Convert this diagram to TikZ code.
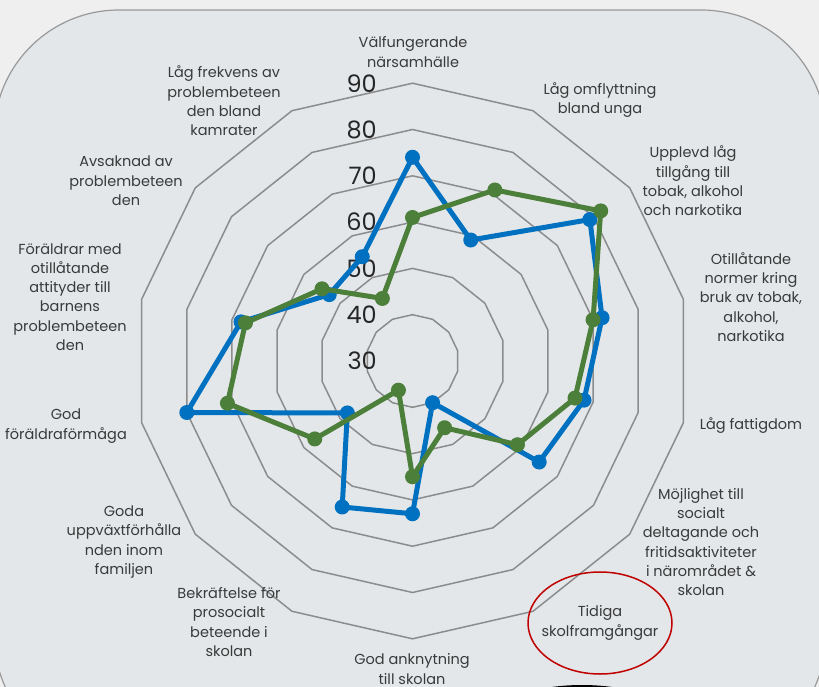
\documentclass[tikz,border=0pt]{standalone}
\usepackage{fontspec}
\setmainfont{Poppins}
\definecolor{pagegray}{HTML}{EFEFEF}
\definecolor{panelgray}{HTML}{E3E7EA}
\definecolor{gridgray}{HTML}{8C8C8C}
\definecolor{txtgray}{HTML}{3A3A3A}
\definecolor{serieblue}{HTML}{0070C0}
\definecolor{seriegreen}{HTML}{4C7F3A}
\definecolor{ringred}{HTML}{C00000}
\tikzset{gridline/.style={gridgray,line width=1.5pt,line join=miter},
         axislabel/.style={text=txtgray,align=center,inner sep=0pt,
                           font=\fontsize{14.5}{19.3}\selectfont},
         ticklabel/.style={text=black!85,anchor=east,inner sep=0pt,
                           font=\fontsize{24}{24}\selectfont},
         bluedot/.style={circle,fill=serieblue,inner sep=0pt,minimum size=15pt},
         greendot/.style={circle,fill=seriegreen,inner sep=0pt,minimum size=15pt},
         blueline/.style={serieblue,line width=5pt,line join=round},
         greenline/.style={seriegreen,line width=5pt,line join=round}}

\begin{document}
\begin{tikzpicture}[x=1pt,y=-1pt]
\useasboundingbox (0,0) rectangle (819,687);
\fill[pagegray] (0,0) rectangle (819,687);
\begin{scope}
  \clip (0,0) rectangle (819,687);
  \draw[fill=panelgray,draw=gray!80,line width=1.2pt,rounded corners=125pt]
    (-6,10) rectangle (826,760);
  \fill[black] (582,720) ellipse [x radius=90,y radius=35];
\end{scope}

\coordinate (c) at (412.5,361);
% rings 40 .. 90
\foreach \v in {40,50,...,90}
  \draw[gridline] ([shift={(c)}] -90:{(\v-30)*4.63})
    \foreach \k in {1,...,13}{ -- ([shift={(c)}] {-90+\k*360/14}:{(\v-30)*4.63}) } -- cycle;
\foreach \v in {30,40,...,90}
  \node[ticklabel] (t\v) at (377,{361-(\v-30)*4.63}) {\v};

% axis texts
\node[axislabel] (l0) at (413,52) {Välfungerande\\närsamhälle};
\node[axislabel] (l1) at (600,100) {Låg omflyttning\\bland unga};
\node[axislabel] (l2) at (693,181) {Upplevd låg\\tillgång till\\tobak, alkohol\\och narkotika};
\node[axislabel] (l3) at (751,297) {Otillåtande\\normer kring\\bruk av tobak,\\alkohol,\\narkotika};
\node[axislabel] (l4) at (751,426) {Låg fattigdom};
\node[axislabel] (l5) at (701,542) {Möjlighet till\\socialt\\deltagande och\\fritidsaktiviteter\\i närområdet \&\\skolan};
\node[axislabel] (l6) at (600,623) {Tidiga\\skolframgångar};
\node[axislabel] (l7) at (412,669) {God anknytning\\till skolan};
\node[axislabel] (l8) at (229,622) {Bekräftelse för\\prosocialt\\beteende i\\skolan};
\node[axislabel] (l9) at (124,542) {Goda\\uppväxtförhålla\\nden inom\\familjen};
\node[axislabel] (l10) at (66,426) {God\\föräldraförmåga};
\node[axislabel] (l11) at (70,297) {Föräldrar med\\otillåtande\\attityder till\\barnens\\problembeteen\\den};
\node[axislabel] (l12) at (126,181) {Avsaknad av\\problembeteen\\den};
\node[axislabel] (l13) at (224,101) {Låg frekvens av\\problembeteen\\den bland\\kamrater};

% series
\foreach \val [count=\k from 0] in {74,59,79,72,68,65,40,63,65,48,80,68,53,55}
  \node[bluedot] (b\k) at ([shift={(c)}] {-90+\k*360/14}:{(\val-30)*4.63}) {};
\draw[blueline] (b0.center) \foreach \k in {1,...,13}{ -- (b\k.center) } -- cycle;
\foreach \val [count=\k from 0] in {61,71,82,70,66,59,46,55,37,57,71,67,55,45}
  \node[greendot] (g\k) at ([shift={(c)}] {-90+\k*360/14}:{(\val-30)*4.63}) {};
\draw[greenline] (g0.center) \foreach \k in {1,...,13}{ -- (g\k.center) } -- cycle;

\draw[ringred,line width=1.5pt] (l6) ellipse [x radius=72,y radius=51];
\end{tikzpicture}
\end{document}
